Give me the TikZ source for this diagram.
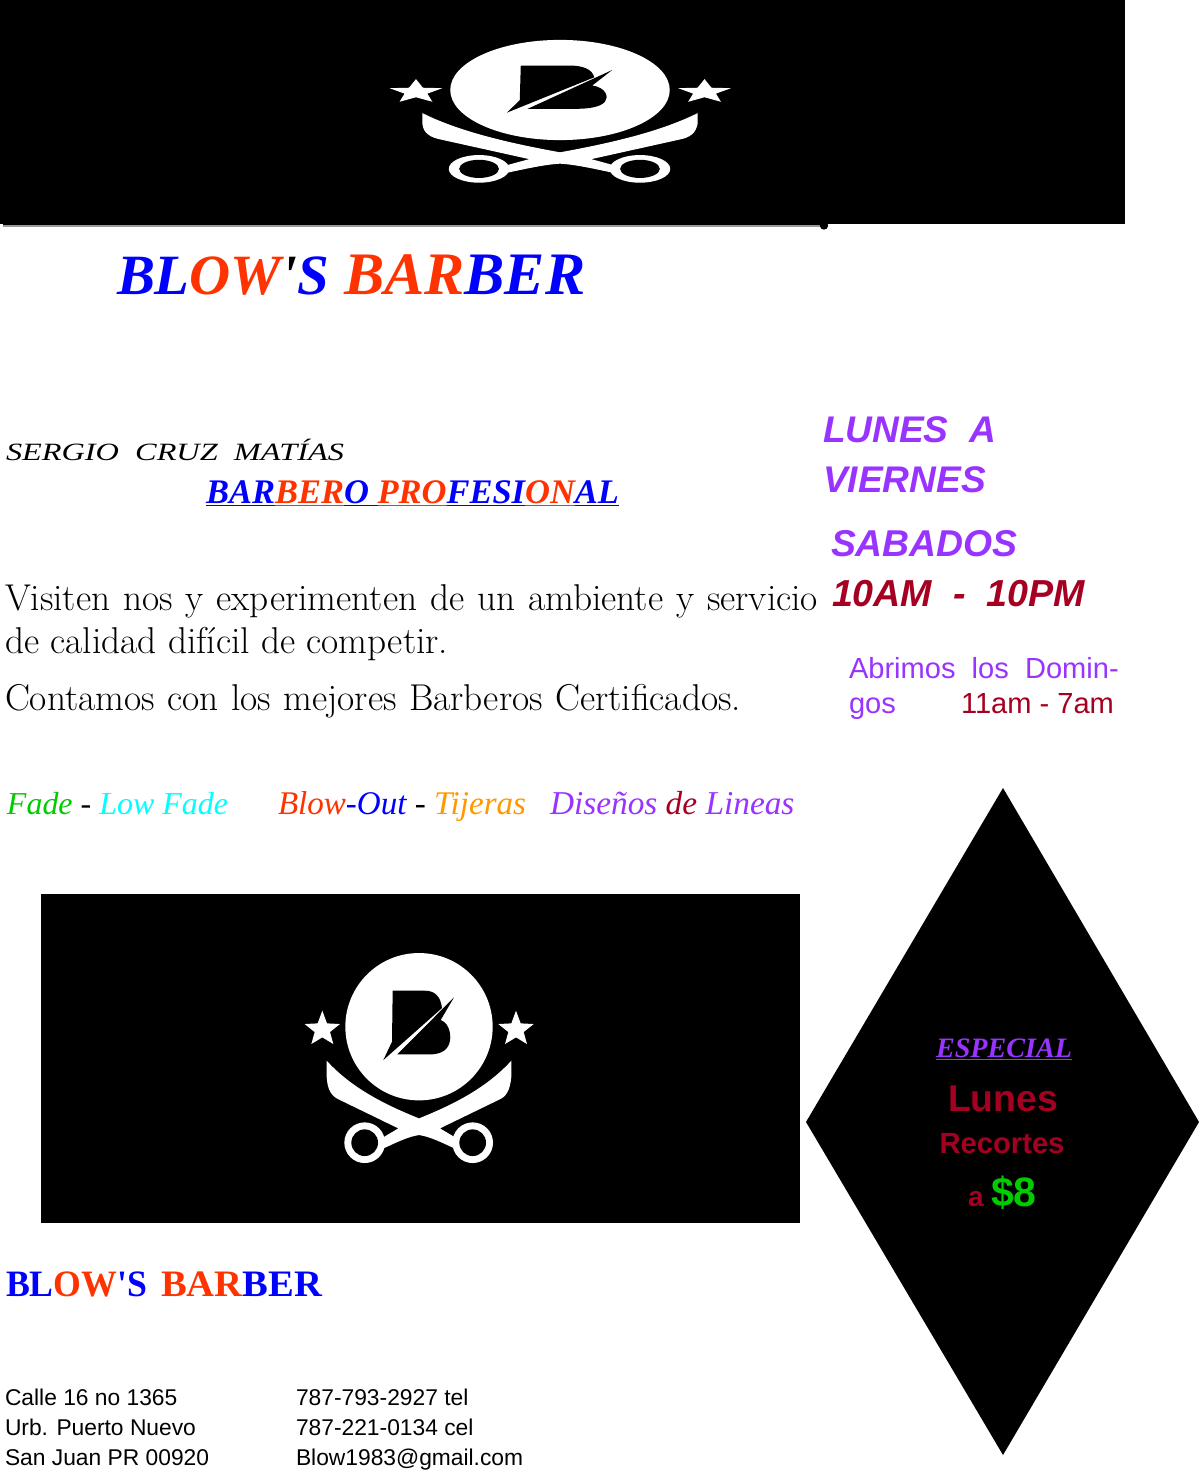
\documentclass[tikz,border=0pt]{standalone}
\usepackage{fontspec}
\usepackage{graphicx}
\newfontfamily\sansf{Liberation Sans}
\newfontfamily\decof{Liberation Serif}
\newfontfamily\bodyf{Latin Modern Roman}
\definecolor{bblue}{HTML}{0000FF}
\definecolor{bred}{HTML}{FF3300}
\definecolor{bpurple}{HTML}{9933FF}
\definecolor{bwine}{HTML}{A50021}
\definecolor{bgreen}{HTML}{00CC00}
\definecolor{bcyan}{HTML}{00FFFF}
\definecolor{borange}{HTML}{FF9900}
\newcommand{\fitbox}[2]{\resizebox{#1}{!}{#2}}
\newcommand{\deco}{\decof\bfseries\itshape}
\newcommand{\cbl}[1]{\textcolor{bblue}{#1}}
\newcommand{\crd}[1]{\textcolor{bred}{#1}}
\newcommand{\logostar}[2]{%
  \begin{scope}[shift={(#1,#2)}]
  \fill[white] (0,-50) -- (14,-12) -- (53,-10) -- (23,14) -- (33,50) -- (0,30) -- (-33,50) -- (-23,14) -- (-53,-10) -- (-14,-12) -- cycle;
  \end{scope}}
\newcommand{\logomark}[4]{%
 \begin{scope}[shift={(#1,#2)},x={(#3*0.25pt,0)},y={(0,-#4*0.25pt)},shift={(-387,-260)}]
  \fill[white] (387,260) ellipse [x radius=221,y radius=221];
  \fill[black] (308,152) -- (405,152) .. controls (435,152) and (452,170) .. (456,204) -- (280,360) -- (306,305) -- cycle;
  \fill[black] (322,343) -- (492,172) -- (452,240) .. controls (480,250) and (485,290) .. (478,310) .. controls (470,335) and (445,343) .. (420,343) -- cycle;
  \logostar{97}{262}
  \logostar{678}{262}
  \fill[white] (110,362) .. controls (190,450) and (300,500) .. (387,535) .. controls (474,500) and (584,450) .. (664,362) -- (664,410) .. controls (660,450) and (650,470) .. (625,480) -- (450,565) -- (492,590) -- (504,630) .. controls (450,605) and (420,590) .. (387,585) .. controls (354,590) and (324,605) .. (270,630) -- (283,590) -- (325,565) -- (150,480) .. controls (125,470) and (112,450) .. (110,410) -- cycle;
  \fill[white] (224,608) ellipse [x radius=61,y radius=61];
  \fill[white] (548,608) ellipse [x radius=61,y radius=61];
  \fill[black] (224,608) ellipse [x radius=40,y radius=40];
  \fill[black] (548,608) ellipse [x radius=40,y radius=40];
 \end{scope}}
\tikzset{txt/.style={anchor=base west,inner sep=0pt,outer sep=0pt,align=left}}
\begin{document}
\begin{tikzpicture}[x=0.75pt,y=-0.75pt]
\useasboundingbox (0,0) rectangle (1200,1476);
\fill[white] (0,0) rectangle (1200,1476);
% panels
\fill[black] (0,0) rectangle (1125,224.5);
\fill[black] (3,224) rectangle (822,225.2);
\fill[black!40] (3,225.2) rectangle (822,226.6);
\fill[black] (824,225.5) circle (4.2);
\fill[black] (41,894) rectangle (800,1223);
\fill[black] (1003,788) -- (1199,1122) -- (1003,1455) -- (806,1122) -- cycle;
\logomark{560}{90}{1.49}{0.68}
\logomark{419}{1026.7}{1}{1}
% headings
\node[txt] (t1a) at (117,295) {\fitbox{159pt}{\deco\fontsize{41}{41}\selectfont\cbl{BL}\crd{OW}{\color{black}'}\cbl{S}}};
\node[txt] (t1b) at (344,295) {\fitbox{181pt}{\deco\fontsize{41}{41}\selectfont\crd{BAR}\cbl{BER}}};
\node[txt] (t2) at (6,460) {\resizebox{253.5pt}{16pt}{\decof\itshape\fontsize{21}{21}\selectfont SERGIO\ \ CRUZ\ \ MATÍAS}};
\node[txt] (t3) at (206,503) {\fitbox{309.75pt}{\deco\fontsize{24}{24}\selectfont\cbl{\underline{BAR}}\crd{\underline{BER}}\cbl{\underline{O }}\crd{\underline{PRO}}\cbl{\underline{FESI}}\crd{\underline{ON}}\cbl{\underline{AL}}}};
% body
\node[txt] (p1) at (5,610) {\bodyf\fontsize{28}{28}\selectfont\hbox to 609.75pt{Visiten nos y experimenten de un ambiente y servicio}};
\node[txt] (p2) at (5,653) {\bodyf\fontsize{28}{28}\selectfont de calidad difícil de competir.};
\node[txt] (p3) at (5,710) {\bodyf\fontsize{28}{28}\selectfont\hbox to 552pt{Contamos con los mejores Barberos Certificados.}};
% services
\node[txt] (s1) at (7,814) {\fitbox{165.75pt}{\decof\itshape\fontsize{25}{25}\selectfont\textcolor{bgreen}{Fade} - \textcolor{bcyan}{Low Fade}}};
\node[txt] (s2) at (278,814) {\fitbox{186pt}{\decof\itshape\fontsize{25}{25}\selectfont\crd{Blow}\cbl{-Out} - \textcolor{borange}{Tijeras}}};
\node[txt] (s3) at (550,814) {\decof\itshape\fontsize{25}{25}\selectfont\textcolor{bpurple}{Diseños} \textcolor{bwine}{de} \textcolor{bpurple}{Lineas}};
% hours
\node[txt,text=bpurple] (h1) at (823,442) {\sansf\bfseries\itshape\fontsize{27.8}{28}\selectfont LUNES\ \ A};
\node[txt,text=bpurple] (h2) at (823,492) {\sansf\bfseries\itshape\fontsize{27.8}{28}\selectfont VIERNES};
\node[txt,text=bpurple] (h3) at (831,556) {\sansf\bfseries\itshape\fontsize{28}{28}\selectfont SABADOS};
\node[txt,text=bwine] (h4) at (832,606) {\sansf\bfseries\itshape\fontsize{28.2}{28}\selectfont 10AM\ \ -\ \ 10PM};
\node[txt,text=bpurple] (h5) at (849,678) {\sansf\fontsize{21.8}{22}\selectfont Abrimos\ \ los\ \ Domin-};
\node[txt,text=bpurple] (h6) at (849,713) {\sansf\fontsize{21.8}{22}\selectfont gos};
\node[txt,text=bwine] (h7) at (961,713) {\sansf\fontsize{21.8}{22}\selectfont 11am - 7am};
% special
\node[txt,text=bpurple] (e1) at (936,1057) {\fitbox{102pt}{\deco\fontsize{22}{22}\selectfont\underline{ESPECIAL}}};
\node[anchor=base,inner sep=0pt,text=bwine] (e2) at (1003,1111) {\sansf\bfseries\fontsize{28}{28}\selectfont Lunes};
\node[anchor=base,inner sep=0pt,text=bwine] (e3) at (1002,1153) {\sansf\bfseries\fontsize{21.9}{22}\selectfont Recortes};
\node[txt,text=bwine] (e4) at (968,1206) {\sansf\bfseries\fontsize{21}{21}\selectfont a};
\node[txt,text=bgreen] (e5) at (991,1206) {\sansf\bfseries\fontsize{30.8}{31}\selectfont\$8};
% footer
\node[txt] (t4a) at (6,1296) {\resizebox{105.75pt}{18.5pt}{\decof\bfseries\fontsize{24}{24}\selectfont\cbl{BL}\crd{OW}\cbl{'S}}};
\node[txt] (t4b) at (161,1296) {\resizebox{120.75pt}{18.5pt}{\decof\bfseries\fontsize{24}{24}\selectfont\crd{BAR}\cbl{BER}}};
\node[txt] (a1) at (5,1405) {\sansf\fontsize{17.1}{17.5}\selectfont Calle 16 no 1365};
\node[txt] (a2) at (5,1435) {\sansf\fontsize{17.1}{17.5}\selectfont Urb. Puerto Nuevo};
\node[txt] (a3) at (5,1465) {\sansf\fontsize{17.1}{17.5}\selectfont San Juan PR 00920};
\node[txt] (b1) at (296,1405) {\sansf\fontsize{17.1}{17.5}\selectfont 787-793-2927 tel};
\node[txt] (b2) at (296,1435) {\sansf\fontsize{17.1}{17.5}\selectfont 787-221-0134 cel};
\node[txt] (b3) at (296,1465) {\sansf\fontsize{17.1}{17.5}\selectfont Blow1983@gmail.com};
\end{tikzpicture}
\end{document}
